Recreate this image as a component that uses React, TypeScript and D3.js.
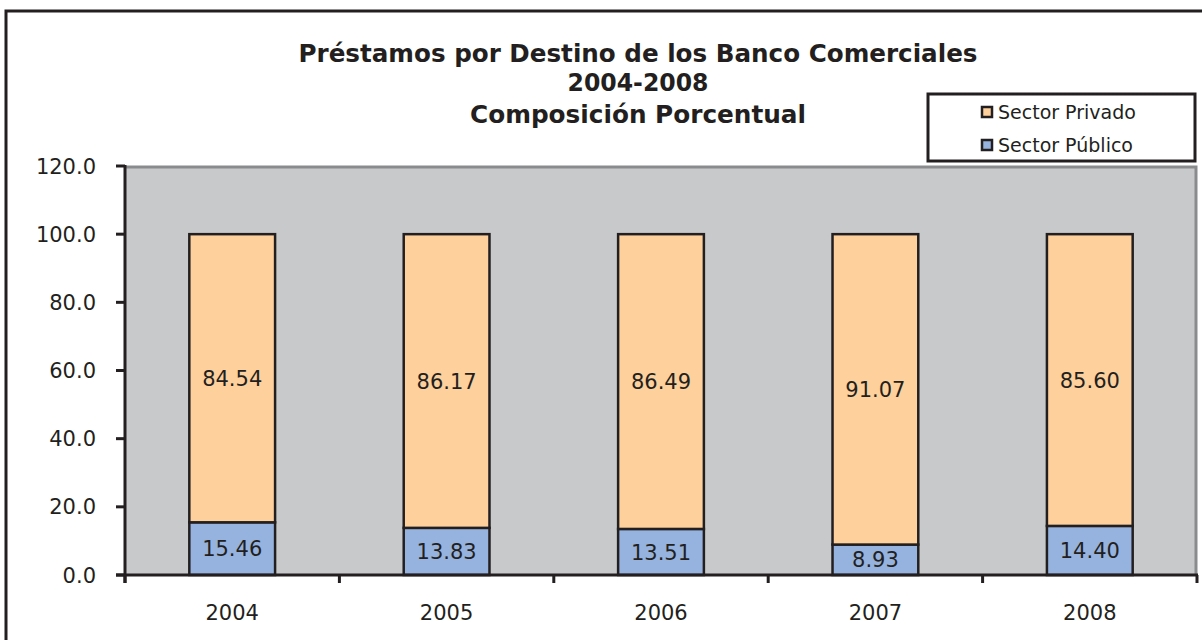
import React from "react";
import * as d3 from "d3";

const years = ["2004", "2005", "2006", "2007", "2008"];
const sectorPublico = [15.46, 13.83, 13.51, 8.93, 14.4];
const sectorPrivado = [84.54, 86.17, 86.49, 91.07, 85.6];
const yTicks = [0, 20, 40, 60, 80, 100, 120];
const titleLines = [
  "Préstamos por Destino de los Banco Comerciales",
  "2004-2008",
  "Composición Porcentual",
];
const legendLabels = ["Sector Privado", "Sector Público"];

const W = 1202;
const H = 640;
const plot = { left: 125, right: 1197, top: 166, bottom: 575 };
const FONT = "'DejaVu Sans', Verdana, sans-serif";
const TEXT = "#231f20";
const ORANGE = "#fdd09c";
const BLUE = "#95b3de";
const PLOTBG = "#c8c9cb";

export default function App() {
  const x = d3
    .scaleBand<string>()
    .domain(years)
    .range([plot.left, plot.right])
    .paddingInner(0.6)
    .paddingOuter(0.3);
  const y = d3.scaleLinear().domain([0, 120]).range([plot.bottom, plot.top]);

  const rows = years.map((yr, i) => ({
    year: yr,
    publico: sectorPublico[i],
    privado: sectorPrivado[i],
  }));
  const stack = d3.stack<any>().keys(["publico", "privado"]);
  const series = stack(rows);
  const colors: Record<string, string> = { publico: BLUE, privado: ORANGE };

  const step = x.step();
  const boundaries = d3.range(years.length + 1).map((i) => plot.left + i * step);
  const fmtTick = d3.format(".1f");
  const fmtVal = d3.format(".2f");

  const titleWidths = [679, 141, 336];
  const titleBaselines = [62, 91, 123];

  return (
    <svg
      width={W}
      height={H}
      style={{ position: "absolute", left: 0, top: 0, background: "#fff" }}
      fontFamily={FONT}
    >
      {/* outer frame */}
      <rect x={6} y={11} width={1220} height={660} fill="#fff" stroke={TEXT} strokeWidth={3} />

      {/* title */}
      {titleLines.map((t, i) => (
        <text
          key={i}
          x={638}
          y={titleBaselines[i]}
          textAnchor="middle"
          fontSize={24}
          fontWeight="bold"
          fill={TEXT}
          textLength={titleWidths[i]}
          lengthAdjust="spacingAndGlyphs"
        >
          {t}
        </text>
      ))}

      {/* plot area */}
      <rect
        x={plot.left}
        y={plot.top}
        width={plot.right - plot.left}
        height={plot.bottom - plot.top}
        fill={PLOTBG}
      />
      <path
        d={`M${plot.left},${plot.top + 1}H${plot.right - 1}V${plot.bottom}`}
        fill="none"
        stroke="#8a8b8d"
        strokeWidth={3}
      />

      {/* bars */}
      {series.map((s) =>
        s.map((d, i) => {
          const x0 = x(years[i])!;
          const y1 = y(d[1]);
          const y0 = y(d[0]);
          return (
            <rect
              key={s.key + i}
              x={x0}
              y={y1}
              width={x.bandwidth()}
              height={y0 - y1}
              fill={colors[s.key]}
              stroke={TEXT}
              strokeWidth={2.5}
            />
          );
        })
      )}

      {/* value labels */}
      {series.map((s) =>
        s.map((d, i) => (
          <text
            key={"l" + s.key + i}
            x={x(years[i])! + x.bandwidth() / 2}
            y={y((d[0] + d[1]) / 2)}
            dy="0.36em"
            textAnchor="middle"
            fontSize={21}
            fill={TEXT}
          >
            {fmtVal(d[1] - d[0])}
          </text>
        ))
      )}

      {/* y axis */}
      <line x1={plot.left} x2={plot.left} y1={plot.top - 1} y2={plot.bottom + 8} stroke={TEXT} strokeWidth={3} />
      {yTicks.map((t) => (
        <g key={t}>
          <line x1={plot.left - 9} x2={plot.left} y1={y(t)} y2={y(t)} stroke={TEXT} strokeWidth={3} />
          <text x={96} y={y(t)} dy="0.36em" textAnchor="end" fontSize={21} fill={TEXT}>
            {fmtTick(t)}
          </text>
        </g>
      ))}

      {/* x axis */}
      <line x1={plot.left - 9} x2={plot.right + 1} y1={plot.bottom} y2={plot.bottom} stroke={TEXT} strokeWidth={3} />
      {boundaries.map((b, i) => (
        <line key={i} x1={b} x2={b} y1={plot.bottom} y2={plot.bottom + 8} stroke={TEXT} strokeWidth={3} />
      ))}
      {years.map((yr) => (
        <text
          key={yr}
          x={x(yr)! + x.bandwidth() / 2}
          y={620}
          textAnchor="middle"
          fontSize={21}
          fill={TEXT}
        >
          {yr}
        </text>
      ))}

      {/* legend */}
      <rect x={928} y={94} width={267} height={67} fill="#fff" stroke={TEXT} strokeWidth={3} />
      {legendLabels.map((l, i) => (
        <g key={l}>
          <rect
            x={982}
            y={107 + i * 33}
            width={10}
            height={10}
            fill={i === 0 ? ORANGE : BLUE}
            stroke={TEXT}
            strokeWidth={2.5}
          />
          <text x={998} y={119 + i * 33} fontSize={19} fill={TEXT}>
            {l}
          </text>
        </g>
      ))}
    </svg>
  );
}
